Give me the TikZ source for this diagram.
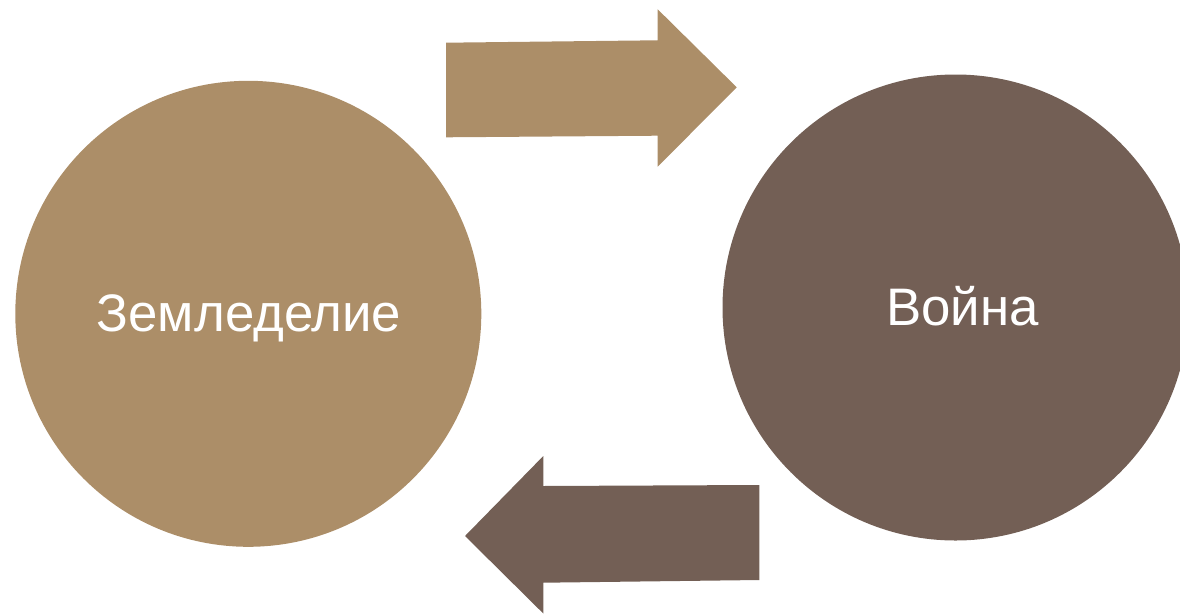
\documentclass[tikz,border=0pt]{standalone}
\usepackage{fontspec}
\setmainfont{Liberation Sans}
\usepackage{tikz}
\usetikzlibrary{positioning,calc}

\definecolor{farmclr}{HTML}{AC8E68}
\definecolor{warclr}{HTML}{735F55}

\begin{document}
\begin{tikzpicture}[
    x=0.75pt, y=-0.75pt,
    circ/.style={circle, draw=none, minimum size=466*0.75pt, inner sep=0pt},
    lbl/.style={text=white, anchor=base, font=\fontsize{39.6}{48}\selectfont}
]
    \useasboundingbox (0,0) rectangle (1180,614);
    \clip (0,0) rectangle (1180,614);

    % Circles
    \node[circ, fill=farmclr] (farm) at (248.3,313.8) {};
    \node[circ, fill=warclr] (war) at (955.5,307.5) {};

    % Labels
    \node[lbl] (farmtxt) at (249,331.5) {Земледелие};
    \node[lbl] (wartxt) at (962.5,325.3) {Война};

    % Block arrows
    \fill[farmclr] (446,42.7) -- (657.7,40.3) -- (657.7,9.3) -- (736.7,87.3)
        -- (657.7,166.7) -- (657.7,135.7) -- (446,137.3) -- cycle;
    \fill[warclr] (759.3,485) -- (543.3,486) -- (543.3,456) -- (465,536)
        -- (543.3,613.5) -- (543.3,582.7) -- (759.3,580) -- cycle;
\end{tikzpicture}
\end{document}
